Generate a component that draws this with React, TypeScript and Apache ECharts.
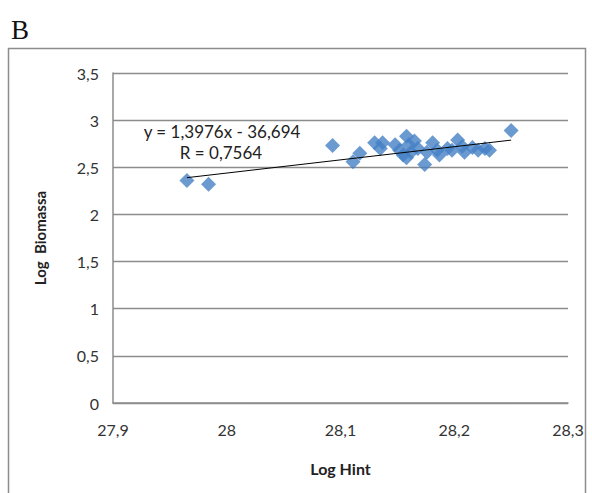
import React, { useEffect, useRef } from "react";
import * as echarts from "echarts";

const logHint: number[] = [
  27.965, 27.984, 28.093, 28.111, 28.117, 28.13, 28.137, 28.135, 28.148, 28.152,
  28.155, 28.158, 28.16, 28.162, 28.165, 28.168, 28.158, 28.174, 28.176, 28.181,
  28.185, 28.187, 28.194, 28.198, 28.203, 28.207, 28.209, 28.216, 28.221, 28.227,
  28.231, 28.25,
];
const logBiomassa: number[] = [
  2.36, 2.32, 2.73, 2.56, 2.65, 2.76, 2.76, 2.7, 2.74, 2.68,
  2.63, 2.83, 2.74, 2.66, 2.78, 2.7, 2.6, 2.53, 2.66, 2.76,
  2.68, 2.63, 2.7, 2.68, 2.79, 2.72, 2.66, 2.71, 2.68, 2.7,
  2.68, 2.89,
];
const slope = 1.3976;
const intercept = -36.694;
const trendX: number[] = [27.965, 28.25];
const equationLines: string[] = ["y = 1,3976x - 36,694", "R = 0,7564"];
const panelLetter = "B";

const fmt = (v: number) => String(Math.round(v * 10) / 10).replace(".", ",");

export default function App() {
  const ref = useRef<HTMLDivElement>(null);
  useEffect(() => {
    document.body.style.margin = "0";
    if (!ref.current) return;
    const chart = echarts.init(ref.current, undefined, { renderer: "svg" });
    const font = "Lato, 'Open Sans', sans-serif";
    chart.setOption({
      animation: false,
      backgroundColor: "#ffffff",
      grid: { left: 113, right: 24, top: 73, bottom: 90 },
      xAxis: {
        type: "value",
        min: 27.9,
        max: 28.3,
        interval: 0.1,
        name: "Log Hint",
        nameLocation: "middle",
        nameGap: 57,
        nameTextStyle: { fontFamily: font, fontWeight: "bold", fontSize: 16, color: "#222" },
        axisLine: { show: true, lineStyle: { color: "#8c8c8c", width: 1.5 } },
        axisTick: { show: false },
        splitLine: { show: false },
        axisLabel: { formatter: fmt, fontFamily: font, fontSize: 16, color: "#333", margin: 18 },
      },
      yAxis: {
        type: "value",
        min: 0,
        max: 3.5,
        interval: 0.5,
        name: "Log  Biomassa",
        nameLocation: "middle",
        nameGap: 66,
        nameTextStyle: { fontFamily: font, fontWeight: "bold", fontSize: 15, color: "#222" },
        axisLine: { show: true, lineStyle: { color: "#8c8c8c", width: 1.5 } },
        axisTick: { show: false },
        splitLine: { show: true, lineStyle: { color: "#8c8c8c", width: 1.3 } },
        axisLabel: { formatter: (v: number) => String(v).replace(".", ","), fontFamily: font, fontSize: 16, color: "#333", margin: 14 },
      },
      series: [
        {
          type: "scatter",
          symbol: "diamond",
          symbolSize: 15,
          itemStyle: { color: "#4681C6" },
          data: logHint.map((x, i) => [x, logBiomassa[i]]),
          z: 3,
        },
        {
          type: "line",
          symbol: "none",
          lineStyle: { color: "#000", width: 1 },
          data: trendX.map((x) => [x, slope * x + intercept]),
          z: 4,
        },
      ],
      graphic: [
        {
          type: "rect",
          shape: { x: 8.5, y: 48.5, width: 577, height: 460 },
          style: { fill: "none", stroke: "#8c8c8c", lineWidth: 1.5 },
          silent: true,
        },
        {
          type: "text",
          x: 11,
          y: 30,
          style: { text: panelLetter, font: "27px 'Liberation Serif', 'DejaVu Serif', serif", fill: "#111", textVerticalAlign: "middle" },
        },
        {
          type: "text",
          x: 222,
          y: 131,
          style: { text: equationLines[0], font: `17px ${font}`, fill: "#222", textAlign: "center", textVerticalAlign: "middle" },
          z: 10,
        },
        {
          type: "text",
          x: 221,
          y: 152,
          style: { text: equationLines[1], font: `17px ${font}`, fill: "#222", textAlign: "center", textVerticalAlign: "middle" },
          z: 10,
        },
      ],
    });
    return () => chart.dispose();
  }, []);
  return <div ref={ref} style={{ width: 592, height: 493 }} />;
}
